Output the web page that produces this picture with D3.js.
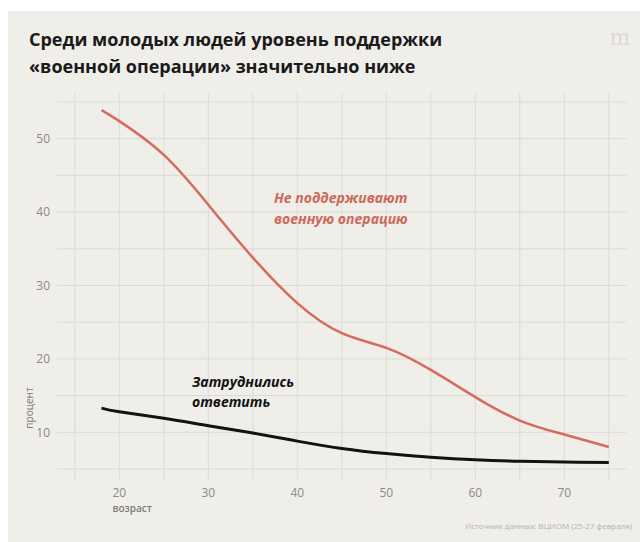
<!DOCTYPE html>
<html>
<head>
<meta charset="utf-8">
<script src="https://cdn.jsdelivr.net/npm/d3@7"></script>
<style>
  html, body { margin: 0; padding: 0; background: #fff; }
  svg { display: block; }
</style>
</head>
<body>
<div id="chart"></div>
<script>
const titleLines = ['Среди молодых людей уровень поддержки', '«военной операции» значительно ниже'];
const ages = [18, 20, 25, 30, 35, 40, 45, 50, 55, 60, 65, 70, 75];
const notSupport = [53.9, 52.4, 47.8, 41.0, 33.8, 27.6, 23.5, 21.5, 18.5, 14.8, 11.6, 9.7, 8.0];
const undecided = [13.3, 12.8, 11.9, 10.9, 9.9, 8.8, 7.8, 7.1, 6.6, 6.25, 6.05, 5.95, 5.9];
const xTicks = [20, 30, 40, 50, 60, 70];
const yTicks = [10, 20, 30, 40, 50];
const xGrid = [15, 20, 25, 30, 35, 40, 45, 50, 55, 60, 65, 70, 75];
const yGrid = [5, 10, 15, 20, 25, 30, 35, 40, 45, 50, 55];
const redLabel = ['Не поддерживают', 'военную операцию'];
const blackLabel = ['Затруднились', 'ответить'];
const source = 'Источник данных: ВЦИОМ (25-27 февраля)';

const W = 640, H = 542;
const font = '"Open Sans", "Noto Sans", sans-serif';

const svg = d3.select('#chart').append('svg').attr('width', W).attr('height', H);

svg.append('rect').attr('x', 8).attr('y', 11).attr('width', W - 8).attr('height', H - 11).attr('fill', '#efeee9');

const x = d3.scaleLinear().domain([15, 75]).range([74.8, 608.8]);
const y = d3.scaleLinear().domain([5, 55]).range([469, 102]);

// grid
const grid = svg.append('g').attr('stroke', '#dbdad4').attr('stroke-width', 1);
grid.selectAll('.vg').data(xGrid).enter().append('line')
  .attr('x1', (d) => x(d)).attr('x2', (d) => x(d))
  .attr('y1', y(56.2)).attr('y2', y(3.5));
grid.selectAll('.hg').data(yGrid).enter().append('line')
  .attr('x1', x(13)).attr('x2', x(77))
  .attr('y1', (d) => y(d)).attr('y2', (d) => y(d));

// axes labels
svg.append('g').selectAll('text').data(yTicks).enter().append('text')
  .attr('x', 50).attr('y', (d) => y(d) + 4.3)
  .attr('text-anchor', 'end')
  .style('font', `500 12px ${font}`).attr('fill', '#8b8a86')
  .text((d) => d);

svg.append('g').selectAll('text').data(xTicks).enter().append('text')
  .attr('x', (d) => x(d)).attr('y', 497)
  .attr('text-anchor', 'middle')
  .style('font', `500 12px ${font}`).attr('fill', '#8b8a86')
  .text((d) => d);

svg.append('text').attr('x', 112.5).attr('y', 512)
  .style('font', `600 10px ${font}`).attr('fill', '#7d7c78')
  .text('возраст');

svg.append('text')
  .attr('transform', 'translate(33,408) rotate(-90)')
  .attr('text-anchor', 'middle')
  .style('font', `500 10px ${font}`).attr('fill', '#7d7c78')
  .text('процент');

// lines
const line = (vals) => d3.line()
  .x((d, i) => x(ages[i]))
  .y((d) => y(d))
  .curve(d3.curveNatural)(vals);

svg.append('path').attr('d', line(notSupport))
  .attr('fill', 'none').attr('stroke', '#d56b5d').attr('stroke-width', 2.5);
svg.append('path').attr('d', line(undecided))
  .attr('fill', 'none').attr('stroke', '#121212').attr('stroke-width', 3);

// series labels
svg.append('g').selectAll('text').data(redLabel).enter().append('text')
  .attr('x', 274).attr('y', (d, i) => 203 + i * 21)
  .style('font', `italic 700 14px ${font}`).attr('fill', '#cc6a5a')
  .text((d) => d);

svg.append('g').selectAll('text').data(blackLabel).enter().append('text')
  .attr('x', 192).attr('y', (d, i) => 387 + i * 20)
  .style('font', `italic 700 14px ${font}`).attr('fill', '#111')
  .text((d) => d);

// title
svg.append('g').selectAll('text').data(titleLines).enter().append('text')
  .attr('x', 29).attr('y', (d, i) => 46 + i * 27)
  .style('font', `700 18px ${font}`).attr('fill', '#1a1a1a')
  .text((d) => d);

// logo
svg.append('text').attr('x', 620).attr('y', 45).attr('text-anchor', 'middle')
  .style('font', '400 22px "DejaVu Serif", serif').attr('fill', '#dddbd5')
  .text('m');

// source
svg.append('text').attr('x', 632).attr('y', 529).attr('text-anchor', 'end')
  .style('font', `400 8px ${font}`).attr('fill', '#b3b2ac')
  .text(source);
</script>
</body>
</html>
